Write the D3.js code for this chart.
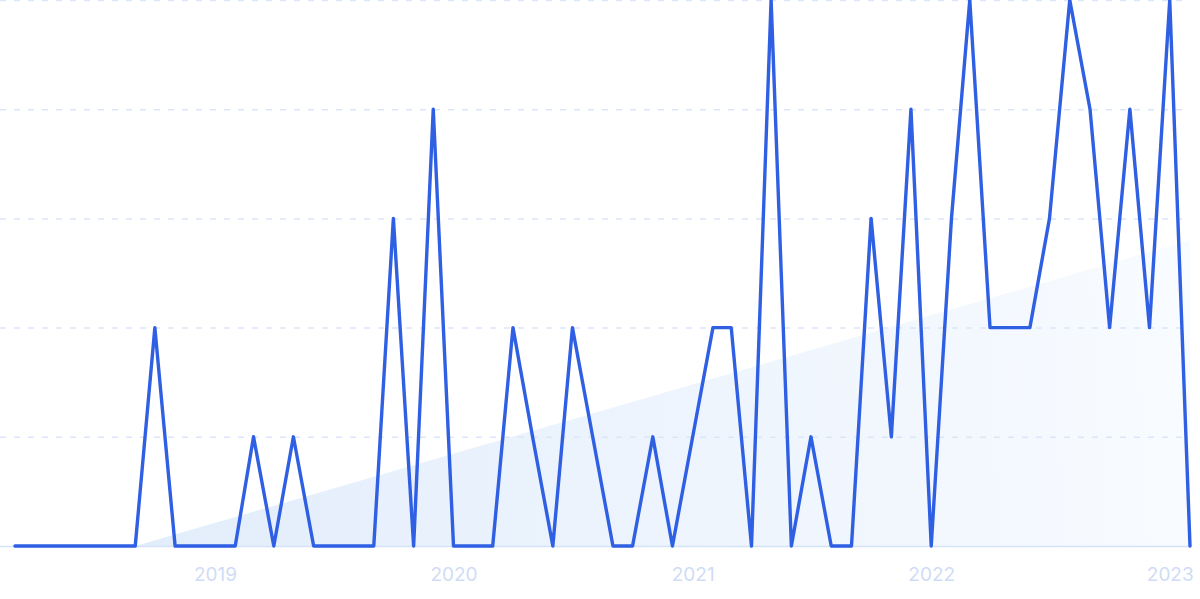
<!DOCTYPE html>
<html>
<head>
<meta charset="utf-8">
<script src="https://cdn.jsdelivr.net/npm/d3@7"></script>
<style>
  html, body { margin: 0; padding: 0; background: #fff; }
  svg { display: block; }
  .axis text { font-family: Inter, "Noto Sans", sans-serif; font-size: 19px; fill: #d0dcf5; }
</style>
</head>
<body>
<div id="chart"></div>
<script>
// monthly values, March 2018 .. February 2023
var months = ["2018-03","2018-04","2018-05","2018-06","2018-07","2018-08","2018-09","2018-10","2018-11","2018-12",
              "2019-01","2019-02","2019-03","2019-04","2019-05","2019-06","2019-07","2019-08","2019-09","2019-10","2019-11","2019-12",
              "2020-01","2020-02","2020-03","2020-04","2020-05","2020-06","2020-07","2020-08","2020-09","2020-10","2020-11","2020-12",
              "2021-01","2021-02","2021-03","2021-04","2021-05","2021-06","2021-07","2021-08","2021-09","2021-10","2021-11","2021-12",
              "2022-01","2022-02","2022-03","2022-04","2022-05","2022-06","2022-07","2022-08","2022-09","2022-10","2022-11","2022-12",
              "2023-01","2023-02"];
var values = [0,0,0,0,0,0,0,2,0,0,
              0,0,1,0,1,0,0,0,0,3,0,4,
              0,0,0,2,1,0,2,1,0,0,1,0,
              1,2,2,0,5,0,1,0,0,3,1,4,
              0,3,5,2,2,2,3,5,4,2,4,2,
              5,0];

// trend band
var trendMonths = ["2018-09", "2023-02"];
var trendValues = [0, 2.8];

var yTicks = [1, 2, 3, 4, 5];
var xTickYears = ["2019", "2020", "2021", "2022", "2023"];

var viewBox = {width: 1200, height: 599},
    plot = {left: 15, right: 1190, top: 0, bottom: 546};

var parseMonth = d3.timeParse("%Y-%m"),
    parseYear = d3.timeParse("%Y");

var data = months.map(function(m, i){ return {date: parseMonth(m), value: values[i]}; });
var trend = trendMonths.map(function(m, i){ return {date: parseMonth(m), value: trendValues[i]}; });

var svg = d3.select("#chart")
  .append("svg")
  .attr("width", viewBox.width)
  .attr("height", viewBox.height)
  .attr("viewBox", "0 0 " + viewBox.width + " " + viewBox.height);

var x = d3.scaleTime()
  .domain(d3.extent(data, function(d){ return d.date; }))
  .range([plot.left, plot.right]);

var y = d3.scaleLinear()
  .domain([0, 5])
  .range([plot.bottom, plot.top]);

// gradient for the trend band, fading to the right
var grad = svg.append("defs").append("linearGradient")
  .attr("id", "trendFill")
  .attr("gradientUnits", "userSpaceOnUse")
  .attr("x1", x(trend[0].date)).attr("y1", plot.bottom)
  .attr("x2", x(trend[1].date)).attr("y2", plot.bottom - 60);
grad.append("stop").attr("offset", "0%").attr("stop-color", "#e2edfb");
grad.append("stop").attr("offset", "100%").attr("stop-color", "#f8fbff");

svg.append("path")
  .datum(trend)
  .attr("fill", "url(#trendFill)")
  .attr("d", d3.area()
    .x(function(d){ return x(d.date); })
    .y0(y(0))
    .y1(function(d){ return y(d.value); }));

// dashed grid lines
svg.append("g")
  .selectAll("line")
  .data(yTicks)
  .join("line")
    .attr("x1", 0)
    .attr("x2", plot.right - 5)
    .attr("y1", function(d){ return y(d) + 0.5; })
    .attr("y2", function(d){ return y(d) + 0.5; })
    .attr("stroke", "#dbe6fb")
    .attr("stroke-width", 1.5)
    .attr("stroke-dasharray", "6,8");

// baseline
svg.append("line")
  .attr("x1", 0)
  .attr("x2", plot.right)
  .attr("y1", y(0) + 0.5)
  .attr("y2", y(0) + 0.5)
  .attr("stroke", "#d4e3f8")
  .attr("stroke-width", 1.5);

// X axis, year labels only
var xAxis = d3.axisBottom(x)
  .tickValues(xTickYears.map(parseYear))
  .tickFormat(d3.timeFormat("%Y"))
  .tickSize(0)
  .tickPadding(22);

svg.append("g")
  .attr("class", "axis")
  .attr("transform", "translate(0," + plot.bottom + ")")
  .call(xAxis)
  .call(function(g){ g.select(".domain").remove(); });

// the series
svg.append("path")
  .datum(data)
  .attr("fill", "none")
  .attr("stroke", "#2f5fe3")
  .attr("stroke-width", 3.4)
  .attr("stroke-linejoin", "round")
  .attr("stroke-linecap", "round")
  .attr("d", d3.line()
    .x(function(d){ return x(d.date); })
    .y(function(d){ return y(d.value); }));
</script>
</body>
</html>
